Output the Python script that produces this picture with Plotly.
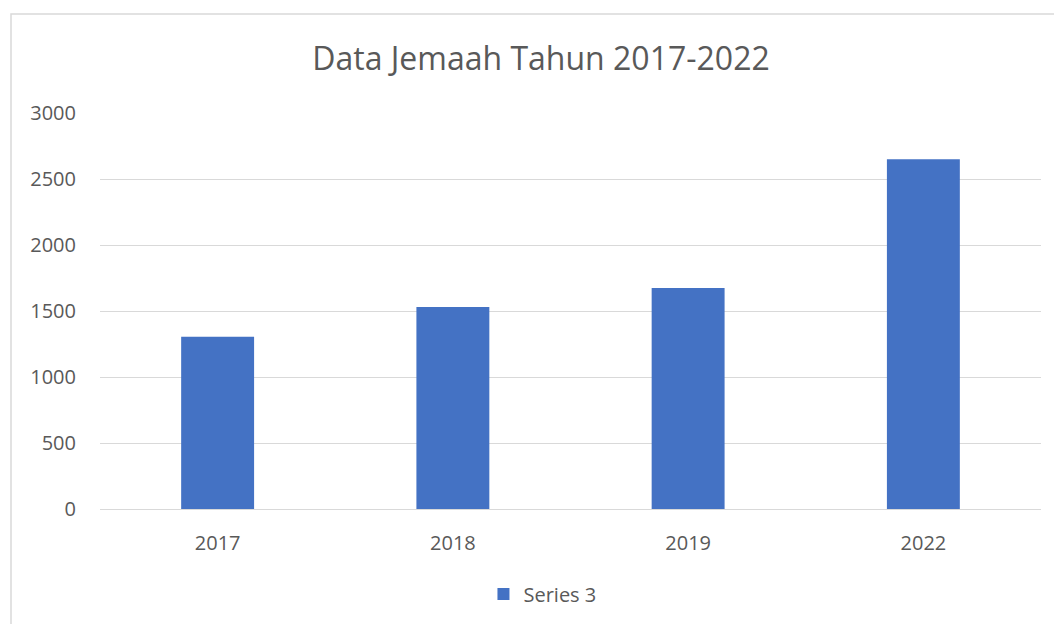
import plotly.graph_objects as go

categories = ["2017", "2018", "2019", "2022"]
values = [1305, 1530, 1675, 2650]
series_name = "Series 3"
title_text = "Data Jemaah Tahun 2017-2022"
y_ticks = [0, 500, 1000, 1500, 2000, 2500, 3000]

BAR_COLOR = "#4472C4"
TEXT_COLOR = "#595959"
GRID_COLOR = "#D9D9D9"
FONT = "Open Sans"

W, H = 1062, 624
fig = go.Figure()
fig.add_trace(go.Bar(x=categories, y=values, name=series_name,
                     marker=dict(color=BAR_COLOR, line=dict(width=0)),
                     showlegend=True))

fig.update_layout(
    width=W, height=H,
    margin=dict(l=92, r=29, t=105, b=123),
    paper_bgcolor="white", plot_bgcolor="white",
    font=dict(family=FONT, color=TEXT_COLOR, size=20),
    bargap=0.69,
    title=dict(text=title_text, x=533/W, xanchor="center",
               y=1-51/H, yanchor="middle", yref="container",
               font=dict(family=FONT, size=32, color=TEXT_COLOR)),
    showlegend=True,
    legend=dict(orientation="h", x=0.4075, xanchor="left", y=-0.2146, yanchor="middle",
                font=dict(family=FONT, size=20, color=TEXT_COLOR),
                bgcolor="rgba(0,0,0,0)"),
    xaxis=dict(type="category", showgrid=False, showline=False, zeroline=False,
               ticks="", tickfont=dict(size=20, color=TEXT_COLOR),
               ticklabelstandoff=20),
    yaxis=dict(range=[0, 3000], tickvals=y_ticks, showgrid=True, gridcolor=GRID_COLOR,
               gridwidth=1, zeroline=True, zerolinecolor=GRID_COLOR, zerolinewidth=1,
               showline=False, ticks="", tickfont=dict(size=20, color=TEXT_COLOR),
               ticklabelstandoff=23),
    shapes=[dict(type="rect", xref="paper", yref="paper",
                 x0=(3-92)/941, x1=1.2, y0=-0.5, y1=(501-6)/396,
                 line=dict(color=GRID_COLOR, width=1.5), fillcolor="rgba(0,0,0,0)",
                 layer="below")],
)

fig.write_html("out.html")
